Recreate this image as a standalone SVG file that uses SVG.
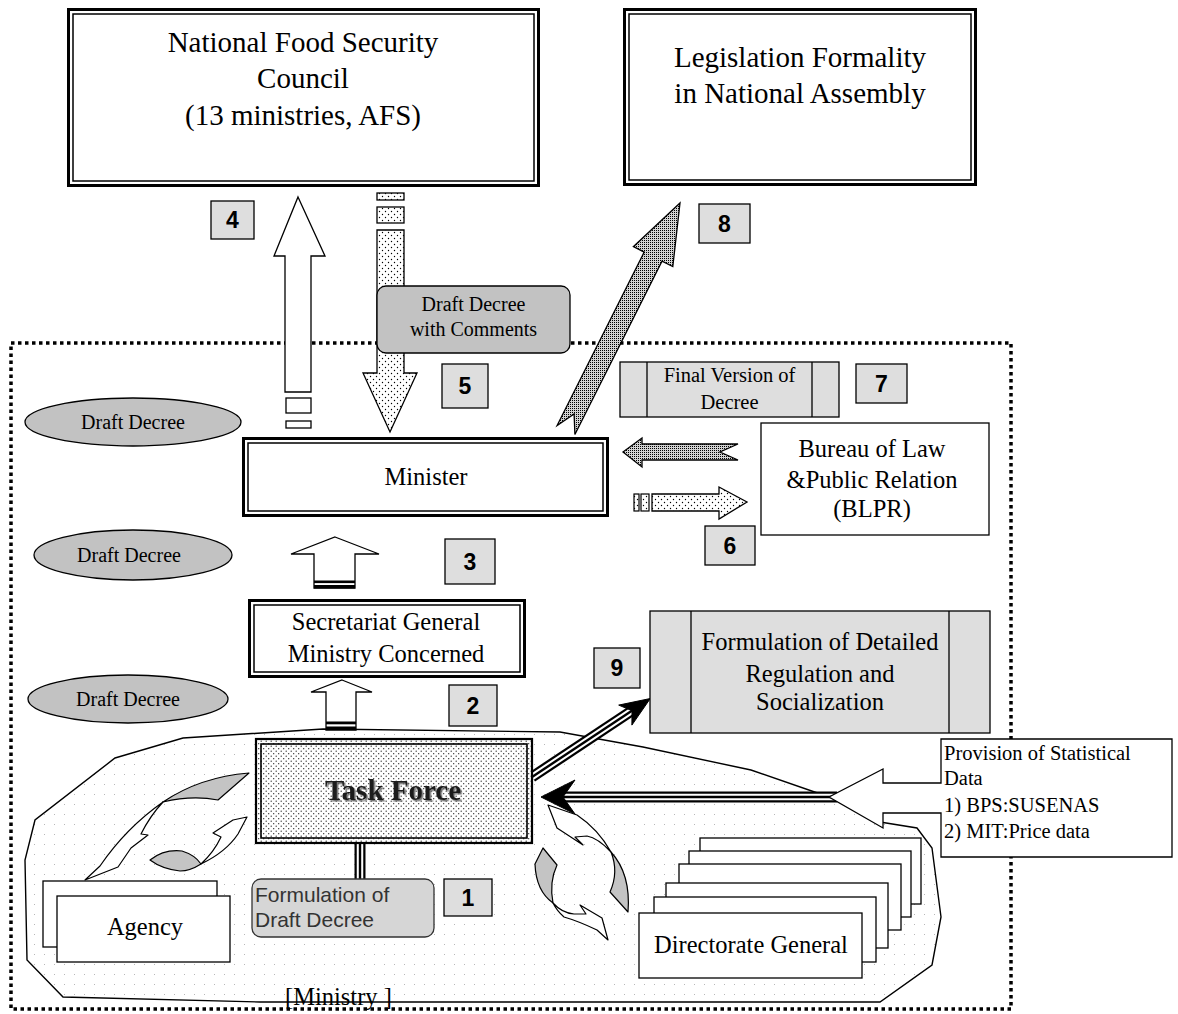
<svg xmlns="http://www.w3.org/2000/svg" width="1178" height="1014" viewBox="0 0 1178 1014">
  <defs>
    <pattern id="dotsSparse" width="6" height="6" patternUnits="userSpaceOnUse">
      <rect width="6" height="6" fill="#ffffff"/>
      <circle cx="1.5" cy="1.5" r="0.7" fill="#000"/>
      <circle cx="4.5" cy="4.5" r="0.7" fill="#000"/>
    </pattern>
    <pattern id="dotsDense" width="2" height="2" patternUnits="userSpaceOnUse">
      <rect width="2" height="2" fill="#d2d2d2"/>
      <rect width="1" height="1" fill="#000"/>
    </pattern>
    <pattern id="dotsTask" width="5" height="5" patternUnits="userSpaceOnUse">
      <rect width="5" height="5" fill="#ffffff"/>
      <circle cx="1.2" cy="1.2" r="0.65" fill="#222"/>
      <circle cx="3.7" cy="3.7" r="0.65" fill="#222"/>
    </pattern>
    <pattern id="dotsFaint" width="10" height="10" patternUnits="userSpaceOnUse">
      <rect width="10" height="10" fill="#ffffff"/>
      <rect x="4" y="4" width="1" height="1" fill="#b8b8b8"/>
    </pattern>
    <filter id="shadow" x="-10%" y="-20%" width="120%" height="150%">
      <feDropShadow dx="1.5" dy="1.5" stdDeviation="0.7" flood-color="#666" flood-opacity="0.9"/>
    </filter>
    <style>
      .serif { font-family: "Liberation Serif", "Times New Roman", serif; fill: #000; }
      .t29 { font-size: 29px; }
      .t25 { font-size: 24.5px; }
      .t20 { font-size: 20.5px; }
      .num { font-family: "Liberation Sans", Arial, sans-serif; font-weight: bold; font-size: 23px; text-anchor: middle; fill: #000; }
      .mid { text-anchor: middle; }
      .numbox { fill: #dedede; stroke: #000; stroke-width: 1.3; }
      .outer3 { fill: #fff; stroke: #000; stroke-width: 3; }
      .inner { fill: none; stroke: #000; stroke-width: 1.5; }
      .plain { fill: #fff; stroke: #000; stroke-width: 1.3; }
      .grey { fill: #c2c2c2; stroke: #000; stroke-width: 1.3; }
      .light { fill: #dedede; stroke: #000; stroke-width: 1.3; }
      .line { fill: none; stroke: #000; stroke-width: 1.3; }
      .tl-a { fill: none; stroke: #000; stroke-width: 11; }
      .tl-b { fill: none; stroke: #fff; stroke-width: 6.5; }
      .tl-c { fill: none; stroke: #000; stroke-width: 2.4; }
      .ribbon { fill: #fff; stroke: #000; stroke-width: 1.2; stroke-linejoin: round; }
      .ribbon-g { fill: #c4c4c4; stroke: #000; stroke-width: 1.2; stroke-linejoin: round; }
    </style>
  </defs>

  <rect width="1178" height="1014" fill="#ffffff"/>

  <!-- ministry boundary (dotted frame) -->
  <rect id="ministry-frame" x="11" y="343" width="1000" height="666" fill="none" stroke="#000" stroke-width="3.5" stroke-dasharray="3.5 3.5"/>

  <!-- ministry area outline -->
  <g id="ministry-area">
    <polygon points="115,758 183,738 323,729 560,732 643,747 751,770 829,797 880,822 917,828 932,848 941,917 932,965 880,1002 260,1002 63,997 27,960 25,860 35,820" fill="url(#dotsFaint)" stroke="#000" stroke-width="1.4"/>
    <text class="serif t25" x="285" y="1005">[Ministry ]</text>
  </g>

  <!-- top level boxes -->
  <g id="nfsc">
    <rect class="outer3" x="68.5" y="9.5" width="470" height="176"/>
    <rect class="inner" x="73" y="14" width="461" height="167"/>
    <text class="serif t29 mid" x="303" y="52">National Food Security</text>
    <text class="serif t29 mid" x="303" y="88">Council</text>
    <text class="serif t29 mid" x="303" y="125">(13 ministries, AFS)</text>
  </g>

  <g id="legislation">
    <rect class="outer3" x="624.5" y="9.5" width="351" height="175"/>
    <rect class="inner" x="629" y="14" width="342" height="166"/>
    <text class="serif t29 mid" x="800" y="67">Legislation Formality</text>
    <text class="serif t29 mid" x="800" y="103">in National Assembly</text>
  </g>

  <!-- connectors -->
  <g id="connectors">
    <!-- 4: up to the council -->
    <polygon points="298,197 325,256 311,256 311,392 285,392 285,256 274,256" fill="#fff" stroke="#000" stroke-width="1.3"/>
    <rect x="286" y="398" width="25" height="15" fill="#fff" stroke="#000" stroke-width="1.3"/>
    <rect x="286" y="421" width="25" height="7" fill="#fff" stroke="#000" stroke-width="1.3"/>

    <!-- 5: back down to the minister -->
    <rect x="377" y="193" width="27" height="7" fill="url(#dotsSparse)" stroke="#000" stroke-width="1.3"/>
    <rect x="377" y="207" width="27" height="16" fill="url(#dotsSparse)" stroke="#000" stroke-width="1.3"/>
    <polygon points="377,230 404,230 404,373 417,373 390,432 363,373 377,373" fill="url(#dotsSparse)" stroke="#000" stroke-width="1.3"/>

    <!-- 8: to the national assembly -->
    <polygon points="680,203 672.8,266.5 662,261.1 574.9,434.5 574.1,413.9 557.1,425.5 644.2,252.1 633.4,246.7" fill="url(#dotsDense)" stroke="#000" stroke-width="1.3" stroke-linejoin="miter"/>

    <!-- 7: back from BLPR -->
    <polygon points="623,452 642,438 642,444 738,444 720,452 738,460 642,460 642,467" fill="url(#dotsDense)" stroke="#000" stroke-width="1.3"/>

    <!-- 6: to BLPR -->
    <rect x="634" y="494" width="5" height="17" fill="url(#dotsSparse)" stroke="#000" stroke-width="1.2"/>
    <rect x="641" y="494" width="8" height="17" fill="url(#dotsSparse)" stroke="#000" stroke-width="1.2"/>
    <polygon points="652,494 719,494 719,487 747,502 719,519 719,511 652,511" fill="url(#dotsSparse)" stroke="#000" stroke-width="1.3"/>

    <!-- 3: secretariat to minister -->
    <polygon points="335,537 379,554 355,554 355,588 314,588 314,554 291,554" fill="#fff" stroke="#000" stroke-width="1.3"/>
    <rect x="314" y="580.5" width="41" height="2.6" fill="#000"/>
    <rect x="314" y="585" width="41" height="3.4" fill="#000"/>

    <!-- 2: task force to secretariat -->
    <polygon points="342,680 372,692 356,692 356,730 326,730 326,692 311,692" fill="#fff" stroke="#000" stroke-width="1.3"/>
    <rect x="326" y="721.5" width="30" height="2.8" fill="#000"/>
    <rect x="326" y="726.5" width="30" height="3.5" fill="#000"/>

    <!-- 1: task force to draft formulation -->
    <line class="tl-a" x1="360" y1="844" x2="360" y2="879"/>
    <line class="tl-b" x1="360" y1="844" x2="360" y2="879"/>
    <line class="tl-c" x1="360" y1="844" x2="360" y2="879"/>

    <!-- 9: task force to detailed regulation -->
    <line class="tl-a" x1="532" y1="777" x2="633" y2="710"/>
    <line class="tl-b" x1="532" y1="777" x2="633" y2="710"/>
    <line class="tl-c" x1="532" y1="777" x2="633" y2="710"/>
    <polygon points="650.3,698.5 631.9,725.1 632,710.7 618.7,705.1" fill="#000" stroke="#000" stroke-width="1"/>

    <!-- statistical data into the task force -->
    <line class="tl-a" x1="837" y1="797" x2="562" y2="797"/>
    <line class="tl-b" x1="837" y1="797" x2="562" y2="797"/>
    <line class="tl-c" x1="837" y1="797" x2="562" y2="797"/>
    <polygon points="541,797 575,780 563,797 575,814" fill="#000" stroke="#000" stroke-width="1"/>
  </g>

  <!-- exchange arrows inside the ministry: twisted ribbons, grey back face -->
  <g id="cycle-left">
    <path class="ribbon-g" d="M163,802 Q200,777 249,773 L218,800 Q192,795 163,802 Z"/>
    <path class="ribbon" d="M163,802 Q126,828 100,866 L85,880 L118,867 L131,848 L148,835 L141,834 Q150,816 163,802 Z"/>
    <path class="ribbon-g" d="M150,860 Q164,849 182,851 Q195,855 201,864 Q190,871 180,871 Q162,869 150,860 Z"/>
    <path class="ribbon" d="M201,864 Q226,852 238,834 L247,817 L233,820 L213,833 L221,837 Q214,852 201,864 Z"/>
  </g>
  <g id="cycle-right">
    <path class="ribbon" d="M548,805 L577,815 Q598,829 611,852 Q598,838 587,836 L575,837 L583,845 L557,828 Z"/>
    <path class="ribbon-g" d="M611,852 Q631,874 628,912 L610,892 Q619,872 611,852 Z"/>
    <path class="ribbon-g" d="M543,848 L557,865 Q549,882 553,903 Q536,891 535,864 Z"/>
    <path class="ribbon" d="M553,903 Q562,913 574,914 L586,914 L580,905 L602,918 L608,940 L597,930 Q578,921 564,917 Q557,911 553,903 Z"/>
  </g>

  <!-- labels on the flow -->
  <g id="draft-comments">
    <rect class="grey" x="377" y="286" width="193" height="67" rx="9"/>
    <text class="serif mid" style="font-size:20px" x="473.5" y="311">Draft Decree</text>
    <text class="serif mid" style="font-size:20px" x="473.5" y="336">with Comments</text>
  </g>

  <g id="draft-1">
    <ellipse class="grey" cx="133" cy="422" rx="108" ry="24"/>
    <text class="serif mid" style="font-size:20px" x="133" y="429">Draft Decree</text>
  </g>
  <g id="draft-2">
    <ellipse class="grey" cx="133" cy="555" rx="99" ry="25"/>
    <text class="serif mid" style="font-size:20px" x="129" y="562">Draft Decree</text>
  </g>
  <g id="draft-3">
    <ellipse class="grey" cx="128" cy="699" rx="100" ry="24"/>
    <text class="serif mid" style="font-size:20px" x="128" y="706">Draft Decree</text>
  </g>

  <g id="final-version">
    <rect class="light" x="620" y="362" width="219" height="55"/>
    <line class="line" x1="647" y1="362" x2="647" y2="417"/>
    <line class="line" x1="812" y1="362" x2="812" y2="417"/>
    <text class="serif t20 mid" x="729.5" y="382">Final Version of</text>
    <text class="serif t20 mid" x="729.5" y="409">Decree</text>
  </g>

  <!-- ministry internal nodes -->
  <g id="minister">
    <rect class="outer3" x="243.5" y="438.5" width="364" height="77"/>
    <rect class="inner" x="248" y="443" width="355" height="68"/>
    <text class="serif t25 mid" x="426" y="485">Minister</text>
  </g>

  <g id="blpr">
    <rect class="plain" x="761" y="423" width="228" height="112"/>
    <text class="serif t25 mid" x="872" y="457">Bureau of Law</text>
    <text class="serif t25 mid" x="872" y="488">&amp;Public Relation</text>
    <text class="serif t25 mid" x="872" y="517">(BLPR)</text>
  </g>

  <g id="secretariat">
    <rect class="outer3" x="249.5" y="600.5" width="275" height="76"/>
    <rect class="inner" x="254" y="605" width="266" height="67"/>
    <text class="serif t25 mid" x="386" y="630">Secretariat General</text>
    <text class="serif t25 mid" x="386" y="662">Ministry Concerned</text>
  </g>

  <g id="detailed-regulation">
    <rect class="light" x="650" y="611" width="340" height="122"/>
    <line class="line" x1="691" y1="611" x2="691" y2="733"/>
    <line class="line" x1="949" y1="611" x2="949" y2="733"/>
    <text class="serif t25 mid" x="820" y="650">Formulation of Detailed</text>
    <text class="serif t25 mid" x="820" y="682">Regulation and</text>
    <text class="serif t25 mid" x="820" y="710">Socialization</text>
  </g>

  <g id="task-force">
    <rect x="256" y="739" width="276" height="104" fill="url(#dotsTask)" stroke="#000" stroke-width="2.2"/>
    <rect x="261" y="744" width="266" height="94" fill="none" stroke="#000" stroke-width="1.6"/>
    <text class="serif mid" x="393" y="800" style="font-size:29px;font-weight:bold;fill:#1a1a1a" filter="url(#shadow)">Task Force</text>
  </g>

  <g id="draft-formulation">
    <rect x="252" y="879" width="182" height="58" rx="9" fill="#d6d6d6" stroke="#333" stroke-width="1.3"/>
    <text x="255" y="902" style="font-family:'Liberation Sans',Arial,sans-serif;font-size:21px;fill:#333">Formulation of</text>
    <text x="255" y="927" style="font-family:'Liberation Sans',Arial,sans-serif;font-size:21px;fill:#333">Draft Decree</text>
  </g>

  <g id="agency">
    <rect class="plain" x="43" y="881" width="174" height="66"/>
    <rect class="plain" x="57" y="896" width="173" height="66"/>
    <text class="serif t25 mid" x="145" y="935">Agency</text>
  </g>

  <g id="directorate-general">
    <rect class="plain" x="700" y="838" width="221" height="66"/>
    <rect class="plain" x="689" y="851" width="222" height="66"/>
    <rect class="plain" x="679" y="864" width="222" height="66"/>
    <rect class="plain" x="666" y="883" width="222" height="65"/>
    <rect class="plain" x="654" y="897" width="222" height="65"/>
    <rect class="plain" x="639" y="913" width="223" height="65"/>
    <text class="serif t25 mid" x="751" y="953">Directorate General</text>
  </g>

  <g id="statistical-data">
    <polygon class="plain" points="941,739 1172,739 1172,857 941,857 941,813 883,813 883,828 829,797 883,769 883,783 941,783"/>
    <text class="serif t20" x="944" y="760">Provision of Statistical</text>
    <text class="serif t20" x="944" y="785">Data</text>
    <text class="serif t20" x="944" y="812">1) BPS:SUSENAS</text>
    <text class="serif t20" x="944" y="838">2) MIT:Price data</text>
  </g>

  <!-- step numbers -->
  <g id="step-4"><rect class="numbox" x="211" y="201" width="43" height="38"/><text class="num" x="232.5" y="228">4</text></g>
  <g id="step-8"><rect class="numbox" x="699" y="204" width="51" height="39"/><text class="num" x="724.5" y="232">8</text></g>
  <g id="step-5"><rect class="numbox" x="442" y="364" width="46" height="44"/><text class="num" x="465" y="394">5</text></g>
  <g id="step-7"><rect class="numbox" x="856" y="364" width="51" height="39"/><text class="num" x="881.5" y="392">7</text></g>
  <g id="step-3"><rect class="numbox" x="445" y="539" width="50" height="45"/><text class="num" x="470" y="570">3</text></g>
  <g id="step-6"><rect class="numbox" x="705" y="526" width="50" height="39"/><text class="num" x="730" y="554">6</text></g>
  <g id="step-9"><rect class="numbox" x="594" y="648" width="46" height="40"/><text class="num" x="617" y="676">9</text></g>
  <g id="step-2"><rect class="numbox" x="449" y="685" width="48" height="41"/><text class="num" x="473" y="714">2</text></g>
  <g id="step-1"><rect class="numbox" x="444" y="879" width="48" height="37"/><text class="num" x="468" y="906">1</text></g>
</svg>
